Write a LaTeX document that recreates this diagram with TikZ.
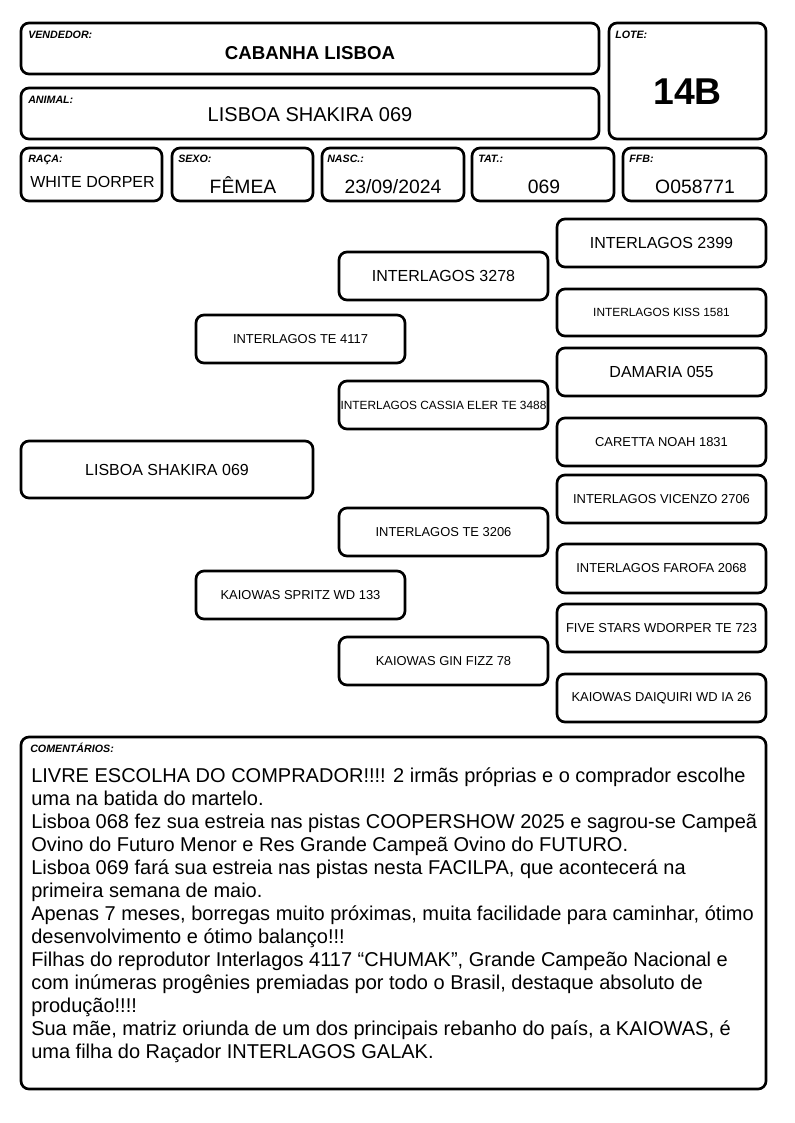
\documentclass[tikz,border=0pt]{standalone}
\usepackage{fontspec}
\setmainfont{Liberation Sans}
\begin{document}
\begin{tikzpicture}[x=0.75pt,y=-0.75pt]
\tikzset{
 box/.style={draw, line width=2pt, rounded corners=6pt, inner sep=0pt, anchor=center, align=center},
 lab/.style={anchor=base west, inner sep=0pt, font=\fontsize{8}{9.5}\selectfont\bfseries\itshape},
 val/.style={anchor=base, inner sep=0pt, font=\fontsize{14.5}{16}\selectfont},
 pbig/.style={font=\fontsize{12}{14}\selectfont},
 pmid/.style={font=\fontsize{9.7}{11}\selectfont},
 psml/.style={font=\fontsize{8.9}{10}\selectfont},
 cmt/.style={anchor=base west, inner sep=0pt, font=\fontsize{15}{17.25}\selectfont},
}
\newcommand{\bx}[7]{\node[box,#6,minimum width={(#4-#2)*0.75pt},minimum height={(#5-#3)*0.75pt}] (#1) at ({(#2+#4)/2},{(#3+#5)/2}) {#7};}
\useasboundingbox[fill=white] (0,0) rectangle (794,1123);
% header
\bx{vend}{21}{23}{599}{74}{}{}
\bx{lote}{609}{23}{766}{139}{}{}
\bx{anim}{21}{88}{599}{139}{}{}
\bx{raca}{21}{148}{162}{201}{}{}
\bx{sexo}{172}{148}{313}{201}{}{}
\bx{nasc}{322}{148}{464}{201}{}{}
\bx{tat}{472}{148}{614}{201}{}{}
\bx{ffb}{623}{148}{766}{201}{}{}
\node[lab] (lvend) at (28,39) {VENDEDOR:};
\node[lab] (llote) at (615,39) {LOTE:};
\node[lab] (lanim) at (28,104) {ANIMAL:};
\node[lab] (lraca) at (28,163) {RAÇA:};
\node[lab] (lsexo) at (178,163) {SEXO:};
\node[lab] (lnasc) at (327,163) {NASC.:};
\node[lab] (ltat) at (478,163) {TAT.:};
\node[lab] (lffb) at (629,163) {FFB:};
\node[val,font=\fontsize{14}{16}\selectfont\bfseries] (vvend) at (310,60) {CABANHA LISBOA};
\node[val,font=\fontsize{15}{17}\selectfont] (vanim) at (310,122) {LISBOA SHAKIRA 069};
\node[val,font=\fontsize{28}{30}\selectfont\bfseries] (vlote) at (687.5,105) {14B};
\node[val,font=\fontsize{12}{14}\selectfont] (vraca) at (92.5,188) {WHITE DORPER};
\node[val] (vsexo) at (243,193.5) {FÊMEA};
\node[val] (vnasc) at (393,193.5) {23/09/2024};
\node[val] (vtat) at (544,193.5) {069};
\node[val] (vffb) at (695,193.5) {O058771};
% pedigree
\bx{p1}{557}{219}{766}{267}{pbig}{INTERLAGOS 2399}
\bx{p2}{339}{252}{548}{300}{pbig}{INTERLAGOS 3278}
\bx{p3}{557}{289}{766}{336}{psml}{INTERLAGOS KISS 1581}
\bx{p4}{196}{315}{405}{363}{pmid}{INTERLAGOS TE 4117}
\bx{p5}{557}{348}{766}{396}{pbig}{DAMARIA 055}
\bx{p6}{339}{381}{548}{429}{psml}{INTERLAGOS CASSIA ELER TE 3488}
\bx{p7}{557}{418}{766}{466}{pmid}{CARETTA NOAH 1831}
\bx{p8}{21}{441}{313}{498}{pbig}{LISBOA SHAKIRA 069}
\bx{p9}{557}{475}{766}{523}{pmid}{INTERLAGOS VICENZO 2706}
\bx{p10}{339}{508}{548}{556}{pmid}{INTERLAGOS TE 3206}
\bx{p11}{557}{544}{766}{593}{pmid}{INTERLAGOS FAROFA 2068}
\bx{p12}{196}{571}{405}{619}{pmid}{KAIOWAS SPRITZ WD 133}
\bx{p13}{557}{604}{766}{652}{pmid}{FIVE STARS WDORPER TE 723}
\bx{p14}{339}{637}{548}{685}{pmid}{KAIOWAS GIN FIZZ 78}
\bx{p15}{557}{674}{766}{722}{pmid}{KAIOWAS DAIQUIRI WD IA 26}
% comments
\bx{com}{21}{737}{766}{1089}{}{}
\node[lab] (lcom) at (30,752) {COMENTÁRIOS:};
\foreach \t [count=\i from 0] in {
 {LIVRE ESCOLHA DO COMPRADOR!!!! 2 irmãs próprias e o comprador escolhe},
 {uma na batida do martelo.},
 {Lisboa 068 fez sua estreia nas pistas COOPERSHOW 2025 e sagrou-se Campeã},
 {Ovino do Futuro Menor e Res Grande Campeã Ovino do FUTURO.},
 {Lisboa 069 fará sua estreia nas pistas nesta FACILPA, que acontecerá na},
 {primeira semana de maio.},
 {Apenas 7 meses, borregas muito próximas, muita facilidade para caminhar, ótimo},
 {desenvolvimento e ótimo balanço!!!},
 {Filhas do reprodutor Interlagos 4117 “CHUMAK”, Grande Campeão Nacional e},
 {com inúmeras progênies premiadas por todo o Brasil, destaque absoluto de},
 {produção!!!!},
 {Sua mãe, matriz oriunda de um dos principais rebanho do país, a KAIOWAS, é},
 {uma filha do Raçador INTERLAGOS GALAK.}}
 {\node[cmt] (c\i) at (31,{782+23*\i}) {\t};}
\end{tikzpicture}
\end{document}
